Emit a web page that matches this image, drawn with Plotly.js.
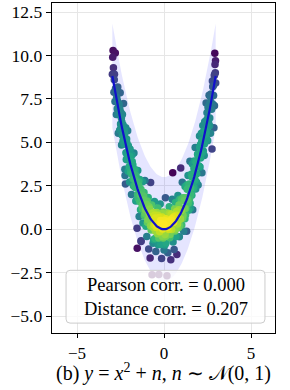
<!DOCTYPE html>
<html>
<head>
<meta charset="utf-8">
<script src="https://cdn.plot.ly/plotly-3.0.1.min.js"></script>
<style>html,body{margin:0;padding:0;background:#fff;}#chart{width:290px;height:390px;}</style>
</head>
<body>
<div id="chart"></div>
<script>
// Sample points (x, y = x^2 + noise)
const xs = [
-2.97,-2.95,-2.93,-2.90,-2.88,-2.85,-2.82,-2.80,-2.77,-2.74,
-2.71,-2.69,-2.66,-2.63,-2.61,-2.58,-2.55,-2.52,-2.50,-2.47,
-2.44,-2.42,-2.39,-2.36,-2.33,-2.31,-2.28,-2.25,-2.22,-2.20,
-2.17,-2.14,-2.12,-2.09,-2.06,-2.03,-2.01,-1.98,-1.95,-1.92,
-1.90,-1.87,-1.84,-1.81,-1.79,-1.76,-1.73,-1.70,-1.68,-1.65,
-1.62,-1.59,-1.57,-1.54,-1.51,-1.48,-1.46,-1.43,-1.40,-1.37,
-1.35,-1.32,-1.29,-1.26,-1.24,-1.21,-1.18,-1.15,-1.13,-1.10,
-1.07,-1.04,-1.02,-0.99,-0.96,-0.93,-0.91,-0.88,-0.85,-0.82,
-0.80,-0.77,-0.74,-0.71,-0.69,-0.66,-0.63,-0.60,-0.58,-0.55,
-0.52,-0.50,-0.47,-0.44,-0.41,-0.38,-0.36,-0.33,-0.30,-0.27,
-0.25,-0.22,-0.19,-0.16,-0.14,-0.11,-0.08,-0.05,-0.03,0.00,
0.03,0.06,0.08,0.11,0.14,0.17,0.19,0.22,0.25,0.28,
0.30,0.33,0.36,0.39,0.41,0.44,0.47,0.50,0.52,0.55,
0.58,0.61,0.63,0.66,0.69,0.72,0.74,0.77,0.80,0.83,
0.85,0.88,0.91,0.94,0.96,0.99,1.02,1.05,1.07,1.10,
1.13,1.16,1.18,1.21,1.24,1.27,1.30,1.32,1.35,1.38,
1.41,1.43,1.46,1.49,1.52,1.54,1.57,1.60,1.63,1.65,
1.68,1.71,1.74,1.76,1.79,1.82,1.85,1.87,1.90,1.93,
1.96,1.98,2.01,2.04,2.07,2.09,2.12,2.15,2.18,2.20,
2.23,2.26,2.29,2.31,2.34,2.37,2.40,2.42,2.45,2.48,
2.51,2.53,2.56,2.59,2.62,2.64,2.67,2.70,2.73,2.76,
2.78,2.81,2.84,2.87,2.89,2.92,2.95,2.97,2.93,2.90,
-1.55,-1.32,-2.24,-2.22,-0.95,-0.60,-0.35,-0.10,0.10,0.35,
0.60,0.90,1.20,-1.20,0.05,-0.45,0.45,0.75,-0.75,1.50,
-2.91,-2.86,-2.79,-2.72,-2.68,-2.64,-2.59,-2.54,-2.49,-2.45,
-2.40,-2.35,-2.30,-2.27,-2.19,-2.15,-2.10,-2.05,-2.00,-1.96,
-1.88,-1.83,-1.78,-1.72,-1.66,-1.61,-1.52,-1.45,-1.39,-1.33,
-1.25,-1.17,-1.09,-1.01,-0.94,-0.86,-0.78,-0.70,-0.62,-0.54,
0.54,0.62,0.70,0.78,0.86,0.94,1.01,1.09,1.17,1.25,
1.33,1.39,1.45,1.52,1.61,1.66,1.72,1.78,1.83,1.88,
1.95,2.00,2.05,2.10,2.16,2.21,2.27,2.32,2.38,2.43,
2.47,2.52,2.57,2.63,2.68,2.74,2.80,2.85,2.91,2.96,
-0.40,-0.20,0.00,0.20,0.40,-0.30,0.10,0.30,-0.10,-0.50
];
const ys = [
8.92,9.90,10.28,8.91,7.89,8.92,7.35,10.14,7.87,6.61,
8.04,6.94,8.18,5.52,7.21,6.66,5.70,7.85,6.05,6.70,
4.85,6.16,6.61,5.07,7.23,5.24,5.70,3.46,5.13,5.84,
4.01,4.98,4.29,5.67,3.34,4.22,4.64,2.72,4.60,3.29,
3.91,2.00,4.28,3.18,3.70,2.50,4.39,2.89,2.52,3.42,
1.62,2.73,1.66,-1.10,3.38,1.79,2.73,0.74,2.86,1.98,
1.12,-0.66,2.16,1.39,2.74,0.36,1.69,2.12,0.78,2.81,
1.14,0.18,1.44,-0.42,1.62,0.56,1.83,-1.13,0.92,1.17,
-1.66,2.69,-0.05,1.40,-2.62,0.74,-0.80,0.96,0.24,1.60,
-0.53,0.65,-1.28,0.29,0.97,-0.26,1.23,-0.89,-2.61,0.67,
-0.14,1.45,-0.86,0.33,-1.68,0.71,0.01,-0.50,1.00,-1.20,
0.50,-0.30,1.81,-0.79,0.22,-2.67,0.94,-1.35,0.46,-0.02,
1.29,-0.49,0.43,-1.75,0.87,-0.01,1.72,3.25,-0.73,0.40,
-1.16,1.17,0.00,1.54,-0.42,1.02,-1.45,0.79,1.94,0.09,
1.12,-0.43,1.73,0.58,3.52,1.08,0.24,2.70,0.64,1.81,
-0.12,1.65,1.19,2.46,0.84,1.81,-0.11,2.54,1.72,3.10,
1.09,2.54,1.73,3.92,1.21,2.37,3.16,1.96,3.76,1.12,
3.12,2.42,3.93,2.90,4.70,2.31,3.82,2.70,3.71,4.32,
2.54,4.12,3.64,5.36,3.58,4.87,4.39,5.52,3.25,5.14,
5.97,4.51,5.64,4.24,6.18,5.62,5.46,7.26,5.20,6.35,
5.10,7.00,6.15,7.71,5.96,7.27,5.53,7.79,7.25,4.62,
8.53,7.20,8.27,5.84,8.85,10.13,9.00,8.42,9.48,7.11,
0.06,-0.70,3.10,2.60,0.40,-0.60,0.80,-0.40,0.60,-0.30,
0.70,0.20,0.60,1.90,-0.90,0.10,0.60,0.10,0.20,1.50,
9.30,8.60,8.10,7.60,7.40,6.60,7.20,6.90,5.80,6.40,
5.40,6.00,4.90,5.50,4.40,5.20,4.00,4.80,3.60,4.20,
3.20,3.90,2.90,3.40,2.40,3.10,2.00,2.50,1.60,2.30,
1.20,1.90,0.90,1.60,0.40,1.30,0.20,0.90,0.10,0.80,
0.70,-0.10,0.80,0.30,1.40,0.60,1.70,0.80,1.80,1.20,
2.30,1.50,2.60,2.00,3.00,2.30,3.50,2.80,3.90,3.20,
4.30,3.60,4.70,4.10,5.00,4.40,5.60,4.90,6.20,5.60,
6.70,5.90,7.10,6.40,7.60,6.90,8.20,7.70,8.90,9.70,
0.20,0.50,0.30,0.10,0.50,-0.50,-0.40,0.90,0.90,-0.10
];
// Fitted model y = c0 + c1*x + c2*x^2 and band half-width
const fitCoef = [0.0, 0.0, 1.0];
const bandHalfWidth = 3.0;
const statLabels = ["Pearson corr. = 0.000", "Distance corr. = 0.207"];
const xTicks = [-5, 0, 5];
const yTicks = [-5, -2.5, 0, 2.5, 5, 7.5, 10, 12.5];
const titleText = "(b) <i>y</i> = <i>x</i><sup>2</sup> + <i>n</i>, <i>n</i> ∼ 𝒩(0, 1)";

// Gaussian KDE for colouring points by density
const n = xs.length;
function mean(a){return a.reduce((s,v)=>s+v,0)/a.length;}
function sd(a){const m=mean(a);return Math.sqrt(a.reduce((s,v)=>s+(v-m)*(v-m),0)/(a.length-1));}
const fac = Math.pow(n, -1/6) * 0.6;
const hx = sd(xs)*fac, hy = sd(ys)*fac;
const dens = xs.map((xi,i)=>{
  let s=0;
  for(let j=0;j<n;j++){const dx=(xi-xs[j])/hx, dy=(ys[i]-ys[j])/hy; s+=Math.exp(-0.5*(dx*dx+dy*dy));}
  return s;
});
const order = dens.map((d,i)=>i).sort((a,b)=>dens[a]-dens[b]);
const px = order.map(i=>xs[i]), py = order.map(i=>ys[i]), pc = order.map(i=>dens[i]);

// curve & band over the data x-range
const xmin = Math.min(...xs), xmax = Math.max(...xs);
const cx = [], cy = [];
for(let k=0;k<=120;k++){const x = xmin+(xmax-xmin)*k/120; cx.push(x); cy.push(fitCoef[0]+fitCoef[1]*x+fitCoef[2]*x*x);}
const up = cy.map(v=>v+bandHalfWidth), lo = cy.map(v=>v-bandHalfWidth);

const font = 'Liberation Serif, Times New Roman, serif';
const traces = [
  {x: cx, y: lo, mode:'lines', line:{width:0, color:'rgba(0,0,0,0)'}, hoverinfo:'skip', showlegend:false},
  {x: cx, y: up, mode:'lines', fill:'tonexty', fillcolor:'rgba(80,80,255,0.15)', line:{width:0, color:'rgba(0,0,0,0)'}, hoverinfo:'skip', showlegend:false},
  {x: px, y: py, mode:'markers', marker:{size:7.5, color:pc, colorscale:'Viridis', line:{width:0}}, showlegend:false},
  {x: cx, y: cy, mode:'lines', line:{color:'#1010cc', width:2.2}, showlegend:false}
];

// rounded box for the statistics (paper coords)
const bx0=0.063, bx1=0.955, by0=0.03, by1=0.19, rx=4/223, ry=4/330;
const boxPath = `M ${bx0+rx} ${by0} L ${bx1-rx} ${by0} Q ${bx1} ${by0} ${bx1} ${by0+ry} L ${bx1} ${by1-ry} Q ${bx1} ${by1} ${bx1-rx} ${by1} L ${bx0+rx} ${by1} Q ${bx0} ${by1} ${bx0} ${by1-ry} L ${bx0} ${by0+ry} Q ${bx0} ${by0} ${bx0+rx} ${by0} Z`;

const layout = {
  width:290, height:390,
  margin:{l:52, r:15, t:3, b:57},
  paper_bgcolor:'#fff', plot_bgcolor:'#fff',
  font:{family:font, size:17, color:'#000'},
  xaxis:{range:[-6.44,6.38], tickvals:xTicks, ticks:'outside', ticklen:4, tickcolor:'#000', tickwidth:1,
         showgrid:true, gridcolor:'#e6e6e6', gridwidth:1, zeroline:false,
         showline:true, linecolor:'#000', linewidth:1.3, mirror:true,
         tickfont:{family:font, size:17, color:'#000'}},
  yaxis:{range:[-5.97,13.02], tickvals:yTicks, tickformat:'.1f', ticks:'outside', ticklen:5, tickcolor:'#000', tickwidth:1,
         showgrid:true, gridcolor:'#e6e6e6', gridwidth:1, zeroline:false,
         showline:true, linecolor:'#000', linewidth:1.3, mirror:true,
         tickfont:{family:font, size:17.5, color:'#000'}},
  shapes:[{type:'path', xref:'paper', yref:'paper', path:boxPath, fillcolor:'rgba(255,255,255,0.8)', line:{color:'#cccccc', width:1}, layer:'above'}],
  annotations:[
    {xref:'paper', yref:'paper', x:(bx0+bx1)/2, y:(by0+by1)/2, xanchor:'center', yanchor:'middle',
     text: statLabels.join('<br>'), showarrow:false, font:{family:font, size:18.5, color:'#000'}, align:'center'},
    {xref:'paper', yref:'paper', x:0.5, y:-0.12, xanchor:'center', yanchor:'middle',
     text: titleText, showarrow:false, font:{family:font, size:20, color:'#000'}}
  ]
};
Plotly.newPlot('chart', traces, layout, {staticPlot:true, displayModeBar:false});
</script>
</body>
</html>
